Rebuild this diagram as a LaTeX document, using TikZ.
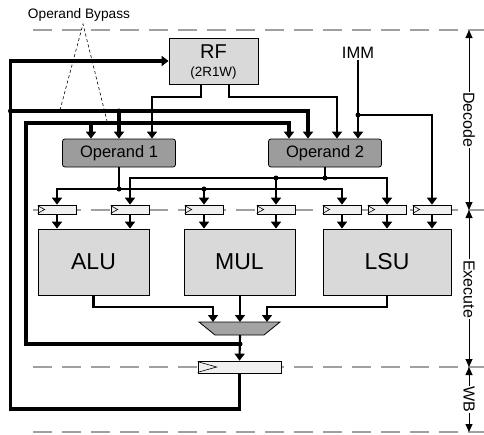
\documentclass[tikz,border=0pt]{standalone}
\usepackage{fontspec}
\setmainfont{Liberation Sans}
\usetikzlibrary{arrows.meta}
\definecolor{unitfill}{HTML}{D9D9D9}
\definecolor{opfill}{HTML}{9C9C9C}
\definecolor{muxfill}{HTML}{A3A3A3}
\definecolor{regfill}{HTML}{F0F0F0}
\definecolor{stagegray}{HTML}{A0A0A0}
\newcommand{\fs}[1]{\fontsize{#1}{#1}\selectfont}
\tikzset{
  wire/.style={line width=2.1pt, line cap=butt},
  bus/.style={line width=3.3pt},
  arr/.style={-{Triangle[width=10pt,length=7pt]}},
  unitbox/.style={draw, line width=0.8pt, fill=unitfill, inner sep=0pt},
  opbox/.style={draw, line width=0.8pt, fill=opfill, rounded corners=2.5pt,
    minimum width=113pt, minimum height=28pt, inner sep=0pt, font=\fs{16.5}},
  regbox/.style={draw, line width=0.7pt, fill=regfill, minimum width=38pt,
    minimum height=9pt, inner sep=0pt},
  clk/.style={line width=0.6pt},
  boundary/.style={stagegray, line width=2pt, dash pattern=on 19pt off 10pt},
  stagelbl/.style={rotate=-90, inner sep=0.5pt, font=\fs{16}},
  stagearr/.style={line width=0.9pt, -{Triangle[width=7pt,length=8pt]}},
  dot/.style={circle, fill, inner sep=0pt, minimum size=5pt}
}
\begin{document}
\begin{tikzpicture}[x=1pt,y=-1pt]
\useasboundingbox (0,0) rectangle (484,434);

% pipeline stage boundaries
\draw[boundary] (33,30) -- (484,30);
\draw[boundary] (33,210) -- (484,210);
\draw[boundary] (33,367) -- (484,367);
\draw[boundary] (33,432) -- (484,432);

% register file, operand latches, immediate
\node[unitbox, minimum width=89pt, minimum height=46pt] (rf) at (213.5,61) {};
\node[font=\fs{20}] (rflbl) at (213.5,52) {RF};
\node[font=\fs{13.4}] (rfports) at (213.5,73.5) {(2R1W)};
\node[opbox] (op1) at (119,153) {Operand 1};
\node[opbox] (op2) at (325,153) {Operand 2};
\node[font=\fs{16.5}, inner sep=1pt] (imm) at (358,53) {IMM};
\node[font=\fs{13.7}] (bypasslbl) at (79,15) {Operand Bypass};

% execute-stage input registers
\foreach \n/\x in {1/57,2/130,3/204,4/276,5/342,6/387,7/432}{
  \node[regbox] (r\n) at (\x,209.5) {};
  \draw[clk] ([yshift=-1pt]r\n.north west) -- ([xshift=7pt]r\n.west) -- ([yshift=1pt]r\n.south west);
}

% functional units
\node[unitbox, minimum width=111pt, minimum height=66pt, font=\fs{23}] (alu) at (93.5,262) {ALU};
\node[unitbox, minimum width=111pt, minimum height=66pt, font=\fs{23}] (mul) at (239.5,262) {MUL};
\node[unitbox, minimum width=128pt, minimum height=66pt, font=\fs{23}] (lsu) at (387,262) {LSU};

% result multiplexer
\node[coordinate] (mux) at (240,328.5) {};
\coordinate (mux1) at (213,322);
\coordinate (mux2) at (240,322);
\coordinate (mux3) at (267,322);
\coordinate (mout) at (240,335);
\draw[line width=0.8pt, fill=muxfill] (199,322) -- (280,322) -- (264,335) -- (215,335) -- cycle;

% write-back register
\node[regbox, minimum width=83pt, minimum height=12pt] (wb) at (239.5,367) {};
\draw[clk] ([yshift=-1pt]wb.north west) -- ([xshift=19pt]wb.west) -- ([yshift=1pt]wb.south west);

% operand bypass callout
\coordinate (bpapex) at (83,24);
\coordinate (bpl) at (60,110);
\coordinate (bpr) at (107,121);
\draw[line width=0.6pt, dash pattern=on 3pt off 2.5pt] (bpl) -- (bpapex) -- (bpr);

% register file read ports
\coordinate (rfm1) at (152,97);
\coordinate (rfm2) at (337,97);
\draw[wire,arr] ([xshift=-12.5pt]rf.south) |- (rfm1) -- ([xshift=33pt]op1.north);
\draw[wire,arr] ([xshift=15.5pt]rf.south) |- (rfm2) -- ([xshift=12pt]op2.north);

% immediate
\coordinate (immj) at (358,115);
\draw[wire,arr] (imm.south) -- ([xshift=33pt]op2.north);
\draw[wire,arr] (immj) -| (r7.north);
\node[dot] (immdot) at (immj) {};

% write-back loop to register file and late bypass
\coordinate (oc1) at (10.5,409);
\coordinate (bp1) at (10.5,111);
\coordinate (bp1a) at (119,111);
\draw[bus,arr] (wb.south) |- (oc1) |- (rf.west);
\draw[bus,arr] (bp1) -| ([xshift=-17pt]op2.north);
\draw[bus,arr] (bp1a) -- (op1.north);
\node[dot] (bpdot1) at (bp1) {};
\node[dot] (bpdot2) at (bp1a) {};

% early bypass from the multiplexer output
\coordinate (ip) at (240,344);
\coordinate (ic1) at (26,123);
\coordinate (ib1) at (91,123);
\draw[bus,arr] (ip) -| (ic1) -| ([xshift=-36pt]op2.north);
\draw[bus,arr] (ib1) -- (ib1 |- op1.north);

% operand 1 distribution
\coordinate (j1) at (119,189);
\coordinate (j1b) at (204,189);
\draw[wire] (op1.south) -- (j1);
\draw[wire,arr] (j1) -| (r1.north);
\draw[wire,arr] (j1) -| (r5.north);
\draw[wire,arr] (j1b) -- (r3.north);
\node[dot] (d1) at (j1) {};
\node[dot] (d1b) at (j1b) {};

% operand 2 distribution
\coordinate (j2) at (325,178);
\coordinate (j2b) at (276,178);
\draw[wire] (op2.south) -- (j2);
\draw[wire,arr] (j2) -| (r2.north);
\draw[wire,arr] (j2) -| (r6.north);
\draw[wire,arr] (j2b) -- (r4.north);
\node[dot] (d2) at (j2) {};
\node[dot] (d2b) at (j2b) {};

% registers into functional units
\draw[wire,arr] (r1.south) -- (r1.south |- alu.north);
\draw[wire,arr] (r2.south) -- (r2.south |- alu.north);
\draw[wire,arr] (r3.south) -- (r3.south |- mul.north);
\draw[wire,arr] (r4.south) -- (r4.south |- mul.north);
\draw[wire,arr] (r5.south) -- (r5.south |- lsu.north);
\draw[wire,arr] (r6.south) -- (r6.south |- lsu.north);
\draw[wire,arr] (r7.south) -- (r7.south |- lsu.north);

% unit results into the multiplexer
\coordinate (aj) at (213,307);
\coordinate (lj) at (267,307);
\draw[wire,arr] (alu.south) |- (aj) -- (mux1);
\draw[wire,arr] (mul.south -| mux2) -- (mux2);
\draw[wire,arr] (lsu.south) |- (lj) -- (mux3);

% multiplexer into write-back register
\draw[wire,arr] (mout) -- (wb.north);
\node[dot] (ipdot) at (ip) {};

% stage annotations
\coordinate (s0) at (469,30);
\coordinate (s1) at (469,210);
\coordinate (s2) at (469,367);
\coordinate (s3) at (469,432);
\node[stagelbl] (dec) at (469,120) {Decode};
\node[stagelbl] (exe) at (469,289) {Execute};
\node[stagelbl] (wbl) at (469,399.5) {WB};
\draw[stagearr] (dec.west) -- (s0);
\draw[stagearr] (dec.east) -- (s1);
\draw[stagearr] (exe.west) -- (s1);
\draw[stagearr] (exe.east) -- (s2);
\draw[stagearr] (wbl.west) -- (s2);
\draw[stagearr] (wbl.east) -- (s3);
\end{tikzpicture}
\end{document}
